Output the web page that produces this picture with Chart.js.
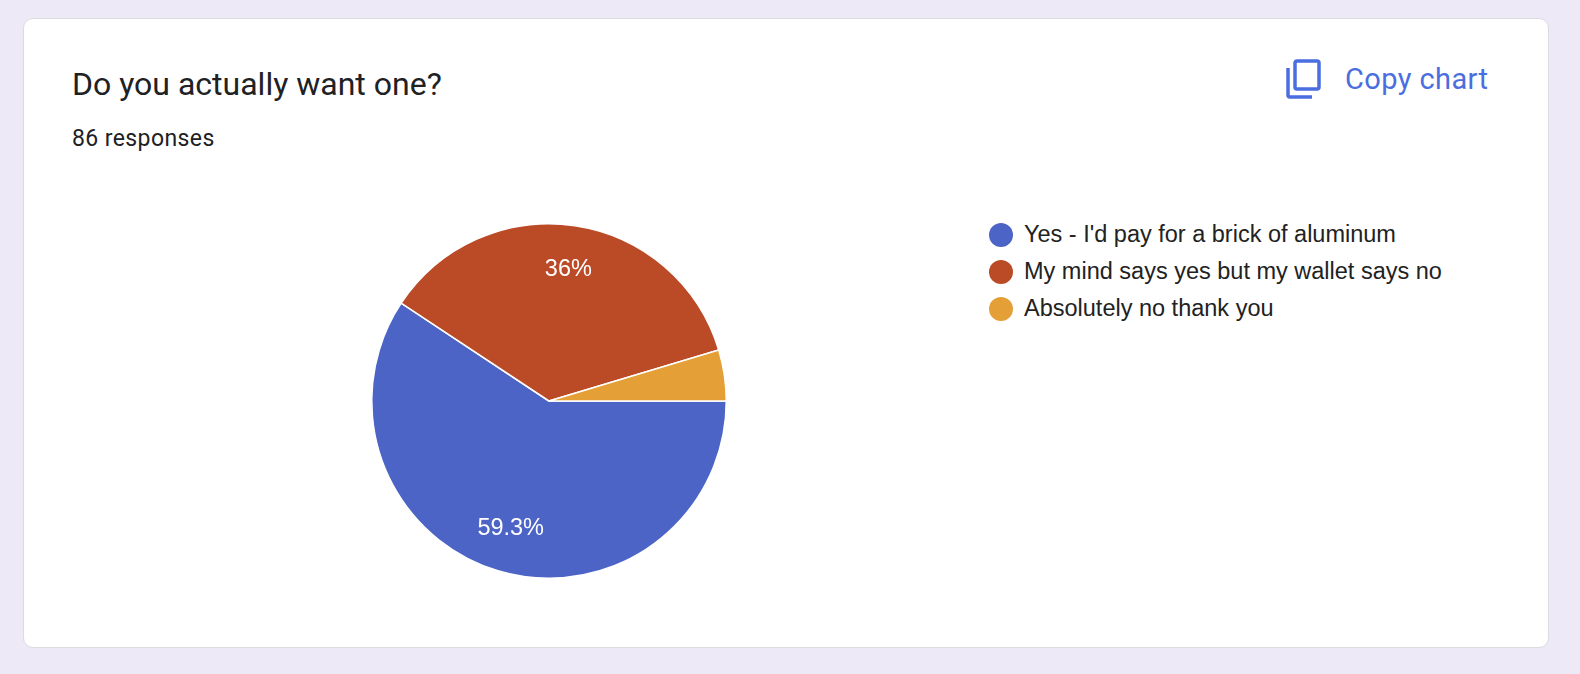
<!DOCTYPE html>
<html>
<head>
<meta charset="utf-8">
<script src="https://cdn.jsdelivr.net/npm/chart.js@4"></script>
<style>
  html, body { overflow: hidden; }
  body { margin: 0; background: #ede9f7; width: 1580px; height: 674px; position: relative; font-family: Roboto, Arial, sans-serif; }
  .card { position: absolute; left: 23px; top: 18px; width: 1524px; height: 628px; background: #fff; border: 1px solid #dadce0; border-radius: 10px; }
  .title { position: absolute; left: 72px; top: 65px; font-size: 32px; line-height: 38px; color: #202124; }
  .sub { position: absolute; left: 72px; top: 124px; font-size: 23px; line-height: 30px; color: #202124; letter-spacing: 0.4px; }
  .copy { position: absolute; left: 1285px; top: 59px; color: #4a6ee0; font-size: 29px; display: flex; align-items: center; }
  .copy span { margin-left: 24px; letter-spacing: 0.4px; }
  #wrap { position: absolute; left: 359px; top: 211px; width: 380px; height: 380px; }
  .legend { position: absolute; left: 989px; top: 216px; font-family: "Liberation Sans", Arial, sans-serif; font-size: 23.5px; color: #222; }
  .legend div { display: flex; align-items: center; height: 37px; }
  .legend i { display: inline-block; width: 24px; height: 24px; border-radius: 50%; margin-right: 11px; }
</style>
</head>
<body>
<div class="card"></div>
<div class="title">Do you actually want one?</div>
<div class="sub">86 responses</div>
<div class="copy">
  <svg width="36" height="40" viewBox="0 0 36 40"><rect x="10" y="2" width="24" height="28" rx="2" fill="none" stroke="#4a6ee0" stroke-width="3.5"/><path d="M3 9 V36 a2 2 0 0 0 2 2 H27" fill="none" stroke="#4a6ee0" stroke-width="3.5"/></svg>
  <span>Copy chart</span>
</div>
<div id="wrap"><canvas id="pie"></canvas></div>
<div class="legend" id="legend"></div>
<script>
// Dados do gráfico
const labels = ["Yes - I'd pay for a brick of aluminum", 'My mind says yes but my wallet says no', 'Absolutely no thank you'];
const counts = [51, 31, 4];
const colors = ['#4b64c6', '#bb4a27', '#e49f36'];

// Legenda HTML
const legend = document.getElementById('legend');
labels.forEach((l, i) => {
    const row = document.createElement('div');
    row.innerHTML = `<i style="background:${colors[i]}"></i>${l}`;
    legend.appendChild(row);
});

// Rótulos de porcentagem nas fatias
const sliceLabels = {
    id: 'sliceLabels',
    afterDatasetsDraw(chart) {
        const ctx = chart.ctx;
        const total = counts.reduce((a, b) => a + b, 0);
        chart.getDatasetMeta(0).data.forEach((arc, i) => {
            const pct = counts[i] / total * 100;
            if (pct < 10) return;
            const p = arc.getProps(['x', 'y', 'startAngle', 'endAngle', 'outerRadius']);
            const a = (p.startAngle + p.endAngle) / 2;
            const r = p.outerRadius * 0.75;
            ctx.save();
            ctx.fillStyle = '#fff';
            ctx.font = '23.5px "Liberation Sans", Arial, sans-serif';
            ctx.textAlign = 'center';
            ctx.textBaseline = 'middle';
            const txt = (Math.round(pct * 10) / 10) + '%';
            ctx.fillText(txt, p.x + Math.cos(a) * r, p.y + Math.sin(a) * r);
            ctx.restore();
        });
    }
};

new Chart(document.getElementById('pie'), {
    type: 'pie',
    data: { labels: labels, datasets: [{ data: counts, backgroundColor: colors, borderColor: '#fff', borderWidth: 1.5 }] },
    options: {
        responsive: true,
        maintainAspectRatio: false,
        animation: false,
        rotation: 90,
        layout: { padding: 12 },
        plugins: { legend: { display: false }, tooltip: { enabled: false } }
    },
    plugins: [sliceLabels]
});
</script>
</body>
</html>
